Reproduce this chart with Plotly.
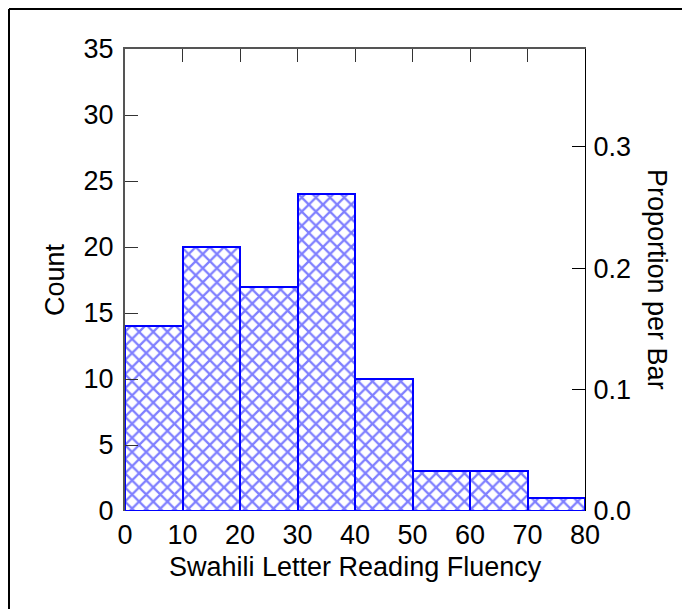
import plotly.graph_objects as go

bin_starts = [0, 10, 20, 30, 40, 50, 60, 70]
bin_width = 10
counts = [14, 20, 17, 24, 10, 3, 3, 1]
count_ticks = [0, 5, 10, 15, 20, 25, 30, 35]
prop_ticks = [0.0, 0.1, 0.2, 0.3]
x_ticks = [0, 10, 20, 30, 40, 50, 60, 70, 80]

total = sum(counts)
centers = [s + bin_width / 2 for s in bin_starts]

FONT = "Liberation Sans, Arial, sans-serif"
BLUE = "#0000ff"
FS = 27

fig = go.Figure()
fig.add_trace(go.Bar(
    x=centers, y=counts, width=[bin_width] * len(counts),
    marker=dict(color="white",
                line=dict(color=BLUE, width=2),
                pattern=dict(shape="x", fgcolor=BLUE, bgcolor="white",
                             size=10, solidity=0.4)),
    showlegend=False, hoverinfo="skip",
))
fig.add_trace(go.Scatter(x=[0], y=[0], xaxis="x2", yaxis="y2",
                         mode="markers", marker=dict(opacity=0),
                         showlegend=False, hoverinfo="skip"))

fig.update_layout(
    width=682, height=609,
    margin=dict(l=125, r=97, t=49, b=98),
    paper_bgcolor="white", plot_bgcolor="white",
    font=dict(family=FONT, size=FS, color="black"),
    bargap=0,
    xaxis=dict(range=[0, 80], tickvals=x_ticks, ticks="", showgrid=False,
               zeroline=False, showline=False, tickfont=dict(size=FS),
               ticklabelstandoff=5),
    xaxis2=dict(range=[0, 80], overlaying="x", side="top", tickvals=x_ticks,
                ticks="inside", ticklen=13, tickcolor="#333", tickwidth=1,
                showticklabels=False, showline=True, linecolor="#555",
                linewidth=2, showgrid=False, zeroline=False),
    yaxis=dict(range=[0, 35], tickvals=count_ticks, ticks="inside",
               ticklen=13, tickcolor="#333", showgrid=False, zeroline=False,
               showline=True, linecolor="#555", linewidth=2,
               tickfont=dict(size=FS), ticklabelstandoff=4),
    yaxis2=dict(range=[0, 35 / total], overlaying="y", side="right",
                tickvals=prop_ticks, tickformat=".1f", ticks="inside",
                ticklen=13, tickcolor="black", showgrid=False,
                zeroline=False, showline=True, linecolor="black",
                linewidth=1, tickfont=dict(size=FS), ticklabelstandoff=2),
    annotations=[
        dict(text="Count", xref="paper", yref="paper", x=-0.152, y=0.5,
             textangle=-90, showarrow=False, font=dict(size=FS),
             xanchor="center", yanchor="middle"),
        dict(text="Proportion per Bar", xref="paper", yref="paper",
             x=1.1565, y=0.5, textangle=90, showarrow=False,
             font=dict(size=FS), xanchor="center", yanchor="middle"),
        dict(text="Swahili Letter Reading Fluency", xref="paper",
             yref="paper", x=0.5, y=-0.121, showarrow=False,
             font=dict(size=FS), xanchor="center", yanchor="middle"),
    ],
    shapes=[
        dict(type="line", xref="paper", yref="paper",
             x0=(9 - 125) / 460, x1=1.4, y0=(511 - 9) / 462,
             y1=(511 - 9) / 462, line=dict(color="black", width=2)),
        dict(type="line", xref="paper", yref="paper",
             x0=(9 - 125) / 460, x1=(9 - 125) / 460,
             y0=(511 - 9) / 462, y1=-0.4,
             line=dict(color="black", width=2)),
    ],
)

post = (
    "document.body.style.margin='0';"
    "document.body.style.overflow='hidden';"
)

fig.write_html("out.html", post_script=post,
               config={"displayModeBar": False})
